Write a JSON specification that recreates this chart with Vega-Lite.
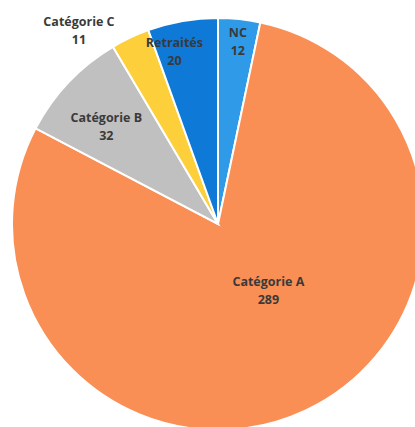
{
  "$schema": "https://vega.github.io/schema/vega-lite/v6.json",
  "autosize": "none",
  "width": 436,
  "height": 448,
  "padding": {"left": 0, "top": 0, "right": -21, "bottom": -21},
  "background": "white",
  "config": {"view": {"stroke": null}},
  "data": {
    "values": [
      {"cat": "NC", "n": 12, "ord": 1},
      {"cat": "Catégorie A", "n": 289, "ord": 2},
      {"cat": "Catégorie B", "n": 32, "ord": 3},
      {"cat": "Catégorie C", "n": 11, "ord": 4},
      {"cat": "Retraités", "n": 20, "ord": 5}
    ]
  },
  "transform": [{"calculate": "[datum.cat, '' + datum.n]", "as": "lbl"}],
  "encoding": {
    "theta": {"field": "n", "type": "quantitative", "stack": true},
    "order": {"field": "ord", "type": "quantitative"}
  },
  "layer": [
    {
      "mark": {"type": "arc", "radius": 206, "stroke": "white", "strokeWidth": 2},
      "encoding": {
        "color": {
          "field": "cat",
          "type": "nominal",
          "legend": null,
          "scale": {
            "domain": ["NC", "Catégorie A", "Catégorie B", "Catégorie C", "Retraités"],
            "range": ["#2F9AE8", "#F98F55", "#C0C0C0", "#FDCF3A", "#0E79D6"]
          }
        }
      }
    },
    {
      "mark": {"type": "text", "radius": 192, "font": "Open Sans", "fontWeight": "bold", "fontSize": 12.5, "lineHeight": 18, "color": "#3a3a3a", "baseline": "middle"},
      "encoding": {"text": {"condition": {"test": "datum.cat == 'NC'", "field": "lbl"}, "value": ""}}
    },
    {
      "mark": {"type": "text", "radius": 184, "dx": -12, "font": "Open Sans", "fontWeight": "bold", "fontSize": 12.5, "lineHeight": 18, "color": "#3a3a3a", "baseline": "middle"},
      "encoding": {"text": {"condition": {"test": "datum.cat == 'Retraités'", "field": "lbl"}, "value": ""}}
    },
    {
      "mark": {"type": "text", "radius": 154, "font": "Open Sans", "fontWeight": "bold", "fontSize": 12.5, "lineHeight": 18, "color": "#3a3a3a", "baseline": "middle"},
      "encoding": {"text": {"condition": {"test": "datum.cat == 'Catégorie B'", "field": "lbl"}, "value": ""}}
    },
    {
      "mark": {"type": "text", "radius": 223, "dx": -44, "font": "Open Sans", "fontWeight": "bold", "fontSize": 12.5, "lineHeight": 18, "color": "#3a3a3a", "baseline": "middle"},
      "encoding": {"text": {"condition": {"test": "datum.cat == 'Catégorie C'", "field": "lbl"}, "value": ""}}
    },
    {
      "mark": {"type": "text", "radius": 83, "dx": 15, "dy": -17, "font": "Open Sans", "fontWeight": "bold", "fontSize": 12.5, "lineHeight": 18, "color": "#3a3a3a", "baseline": "middle"},
      "encoding": {"text": {"condition": {"test": "datum.cat == 'Catégorie A'", "field": "lbl"}, "value": ""}}
    }
  ]
}
